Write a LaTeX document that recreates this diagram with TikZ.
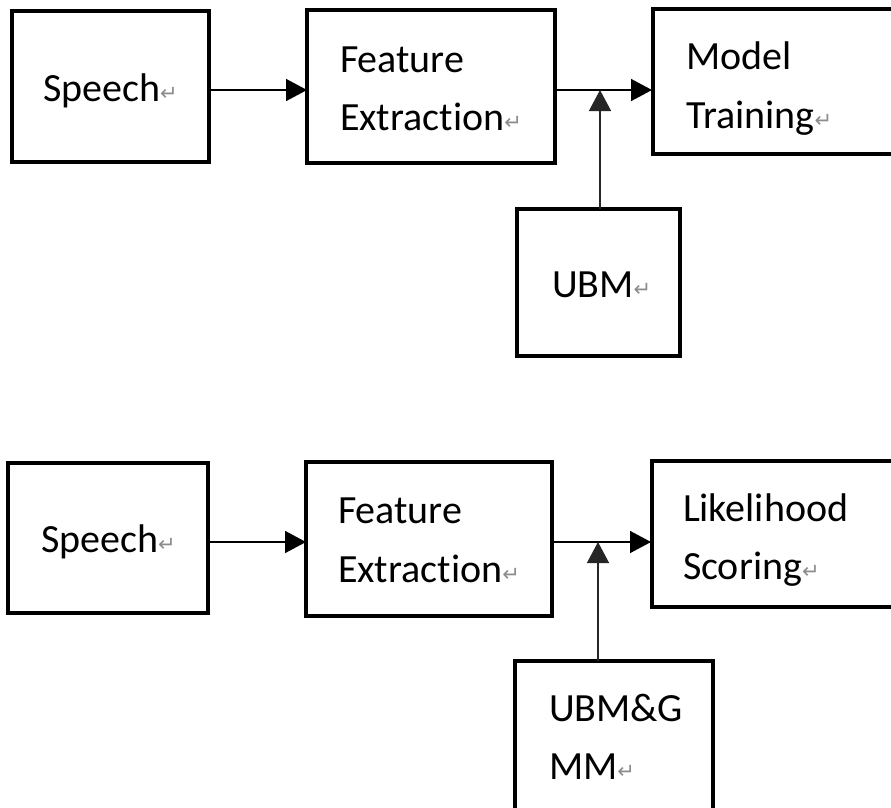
\documentclass[tikz,border=0pt]{standalone}
\usepackage{fontspec}
\setmainfont[Ligatures=NoCommon]{Carlito}
\newfontfamily\symfont{DejaVu Sans}
\usetikzlibrary{arrows.meta,calc}
\newcommand{\rt}{{\symfont\fontsize{21}{21}\selectfont\color{black!45}\raisebox{1pt}{↵}}}
\tikzset{
  box/.style={draw=black, line width=3.2pt, inner sep=0pt, outer sep=0pt, fill=white},
  txt/.style={inner sep=0pt, outer sep=0pt, anchor=base west, font=\fontsize{40}{48}\selectfont, text=black},
  conn/.style={draw=black, line width=1.6pt, -{Triangle[length=21pt,width=22pt]}},
  connv/.style={draw=black!85, line width=1.4pt, -{Triangle[length=21pt,width=22pt]}}
}
\begin{document}
\begin{tikzpicture}[x=1pt,y=-1pt]
\useasboundingbox (0,0) rectangle (891,807);
\clip (0,0) rectangle (891,807);
\fill[white] (0,0) rectangle (891,807);
% ---- top row ----
\node[box, minimum width=197pt, minimum height=151pt] (sp1) at (110.5,86.5) {};
\node[box, minimum width=248pt, minimum height=153pt] (fe1) at (431,86.5) {};
\node[box, minimum width=252pt, minimum height=145pt] (mt1) at (779,81.5) {};
\node[box, minimum width=163pt, minimum height=147pt] (ubm) at (598.5,282.5) {};
\coordinate (a1) at (0,90);
\node[txt] (tsp1) at (43,101) {Speech\rt};
\node[txt] (tfe1a) at (340,72) {Feature};
\node[txt] (tfe1b) at (340,130) {Extraction\rt};
\node[txt] (tmt1a) at (686,69) {Model};
\node[txt] (tmt1b) at (686,128) {Training\rt};
\node[txt] (tubm) at (552,297) {UBM\rt};
\draw[conn] (sp1.east |- a1) -- (fe1.west |- a1);
\draw[conn] (fe1.east |- a1) -- ([xshift=-1pt]mt1.west |- a1);
\coordinate (v1) at ([xshift=83pt]ubm.north west);
\draw[connv] (v1) -- (v1 |- a1);
% ---- bottom row ----
\node[box, minimum width=200pt, minimum height=150pt] (sp2) at (108,538) {};
\node[box, minimum width=246pt, minimum height=154pt] (fe2) at (429,539) {};
\node[box, minimum width=253pt, minimum height=146pt] (ls) at (778.5,534) {};
\node[box, minimum width=198pt, minimum height=160pt] (ug) at (614,741) {};
\coordinate (a2) at (0,542);
\node[txt] (tsp2) at (41,552) {Speech\rt};
\node[txt] (tfe2a) at (338,523) {Feature};
\node[txt] (tfe2b) at (338,582) {Extraction\rt};
\node[txt] (tlsa) at (683,521) {Likelihood};
\node[txt] (tlsb) at (683,579) {Scoring\rt};
\node[txt] (tuga) at (549,721) {UBM\&G};
\node[txt] (tugb) at (549,779) {MM\rt};
\draw[conn] (sp2.east |- a2) -- (fe2.west |- a2);
\draw[conn] (fe2.east |- a2) -- ([xshift=-1pt]ls.west |- a2);
\coordinate (v2) at ([xshift=83pt]ug.north west);
\draw[connv] (v2) -- (v2 |- a2);
\end{tikzpicture}
\end{document}
